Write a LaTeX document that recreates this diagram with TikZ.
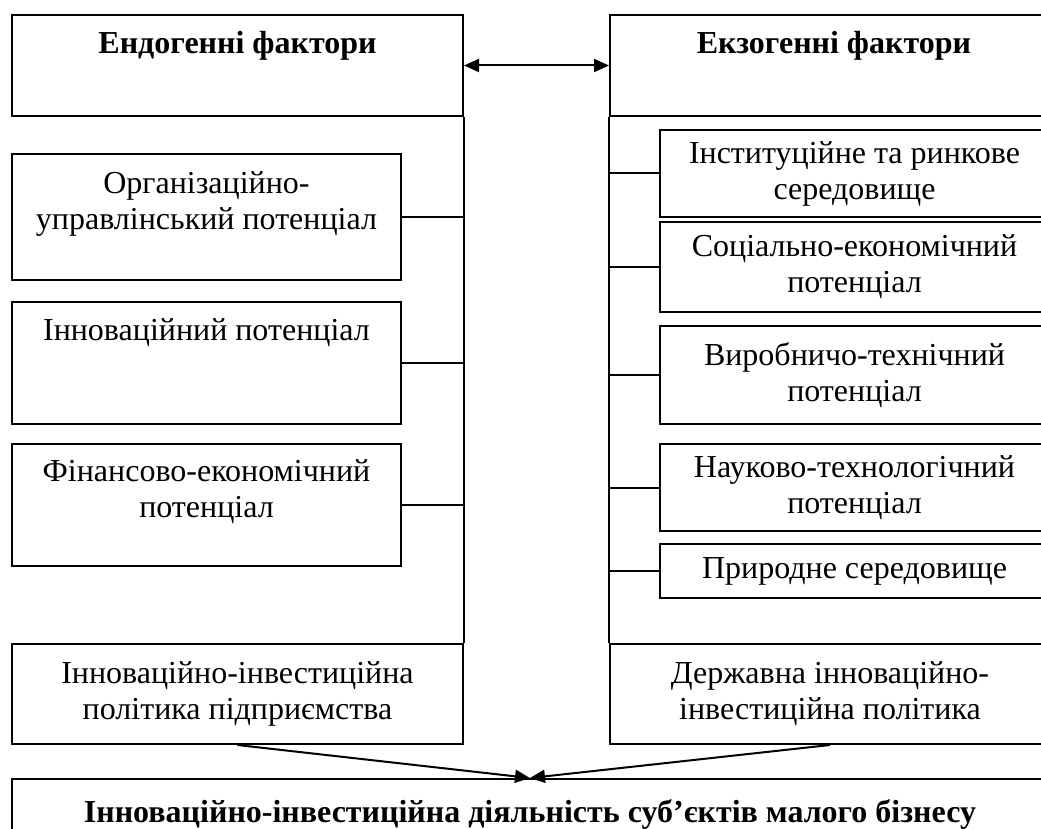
\documentclass[tikz,border=0pt]{standalone}
\usepackage{fontspec}
\setmainfont{Liberation Serif}
\usepackage{tikz}
\usetikzlibrary{positioning,arrows.meta}

\newcommand{\bodysize}{\fontsize{32}{36}\selectfont}

\begin{document}
\begin{tikzpicture}[x=1pt,y=-1pt,font=\bodysize]
    \tikzstyle{box}=[draw, line width=2pt, rectangle, inner sep=0pt, anchor=north west, align=center]
    \tikzstyle{txt}=[align=center, inner sep=0pt]
    \tikzstyle{head}=[font=\bodysize\bfseries]
    \tikzstyle{link}=[line width=2pt]
    \tikzstyle{arr}=[line width=2pt, -{Triangle[length=15pt,width=13pt]}]
    \useasboundingbox (0,0) rectangle (1041,829);

    % endogenous side
    \node[box, minimum width=451, minimum height=101] (endo) at (11,14) {};
    \node[txt, head] (endotxt) at ([yshift=-32pt] endo.north) {Ендогенні фактори};
    \node[box, minimum width=389, minimum height=126] (org) at (11,153) {};
    \node[txt] (orgtxt) at ([yshift=-51pt] org.north) {Організаційно-\\управлінський потенціал};
    \node[box, minimum width=389, minimum height=122] (innov) at (11,301) {};
    \node[txt] (innovtxt) at ([yshift=-32pt] innov.north) {Інноваційний потенціал};
    \node[box, minimum width=389, minimum height=122] (fin) at (11,443) {};
    \node[txt] (fintxt) at ([yshift=-49pt] fin.north) {Фінансово-економічний\\потенціал};
    \node[box, minimum width=451, minimum height=100] (endpol) at (11,643) {Інноваційно-інвестиційна\\політика підприємства};

    % exogenous side
    \node[box, minimum width=448, minimum height=101] (exo) at (609,14) {};
    \node[txt, head] (exotxt) at ([yshift=-32pt] exo.north) {Екзогенні фактори};
    \node[box, minimum width=389, minimum height=87] (inst) at (659,129) {Інституційне та ринкове\\середовище};
    \node[box, minimum width=389, minimum height=90] (soc) at (659,221) {Соціально-економічний\\потенціал};
    \node[box, minimum width=389, minimum height=98] (vyr) at (659,325) {Виробничо-технічний\\потенціал};
    \node[box, minimum width=389, minimum height=87] (nauk) at (659,443) {Науково-технологічний\\потенціал};
    \node[box, minimum width=389, minimum height=54] (pryr) at (659,543) {Природне середовище};
    \node[box, minimum width=440, minimum height=100] (derzh) at (609,643) {Державна інноваційно-\\інвестиційна політика};

    % result
    \node[box, head, minimum width=1036, minimum height=70] (diyal) at (11,778) {Інноваційно-інвестиційна діяльність суб’єктів малого бізнесу};

    % links
    \draw[link] (endo.south east) -- (endpol.north east);
    \draw[link] (org.east) -- (org.east -| endo.east);
    \draw[link] (innov.east) -- (innov.east -| endo.east);
    \draw[link] (fin.east) -- (fin.east -| endo.east);
    \draw[link] (exo.south west) -- (derzh.north west);
    \foreach \b in {inst,soc,vyr,nauk,pryr}
        \draw[link] (\b.west) -- (\b.west -| exo.west);

    \draw[arr, {Triangle[length=15pt,width=13pt]}-{Triangle[length=15pt,width=13pt]}] (endo.east) -- (exo.west);
    \draw[arr] (endpol.south) -- (diyal.north);
    \draw[arr] (derzh.south) -- (diyal.north);
\end{tikzpicture}
\end{document}
